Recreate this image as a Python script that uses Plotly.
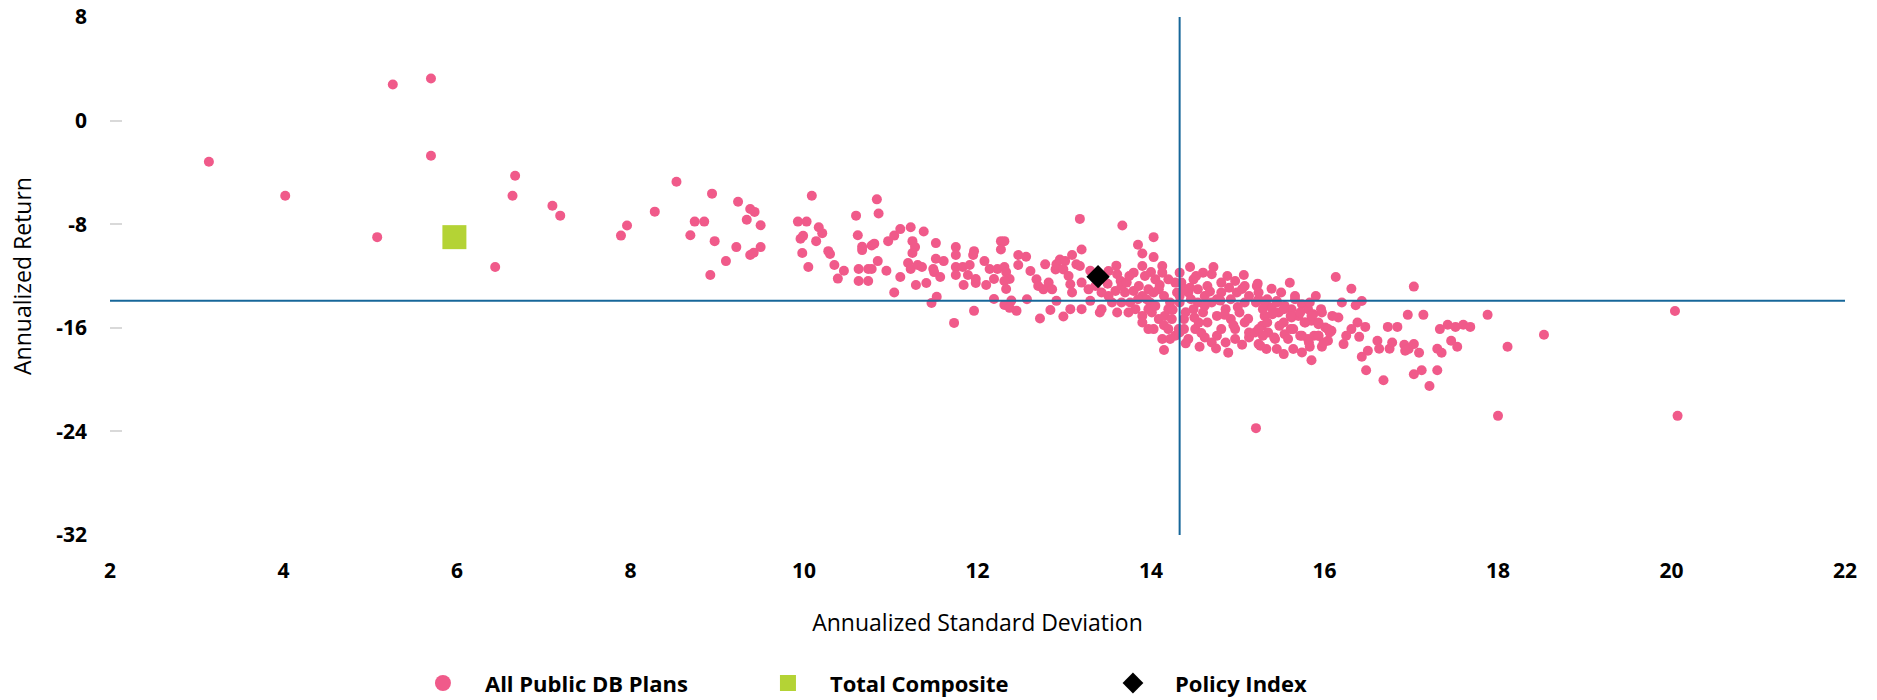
import plotly.graph_objects as go

# ---------------- data ----------------
plans_sd = [
    3.14, 4.02, 5.26, 5.70, 5.70, 5.08, 6.67, 6.64, 6.44, 7.10, 7.19, 7.96, 7.89,
    8.28, 8.53, 8.74, 8.85, 8.69, 8.94, 8.97, 8.92, 9.10, 9.22, 9.24, 9.38, 9.43, 9.34, 9.50, 9.38,
    9.42, 9.50, 9.93, 10.03, 10.09, 9.96, 9.99, 9.98, 10.05, 10.17, 10.21, 10.14, 10.28, 10.30, 10.35,
    10.46, 10.39, 10.60, 10.84, 10.86, 10.62, 10.67, 10.67, 10.78, 10.81, 10.63, 10.74, 10.78, 10.85,
    10.63, 10.74, 10.95, 10.97, 11.04, 11.11, 11.23, 11.38, 11.25, 11.28, 11.25, 11.11, 11.04, 11.20,
    11.23, 11.31, 11.36, 11.29, 11.41, 11.52, 11.52, 11.61, 11.49, 11.50, 11.57, 11.53, 11.47, 11.73,
    11.75, 11.75, 11.75, 11.83, 11.75, 11.84, 11.96, 11.95, 11.91, 11.89, 11.98, 11.98, 12.08, 12.10,
    11.96, 12.14, 12.19, 12.19, 12.27, 12.31, 12.27, 12.23, 12.31, 12.33, 12.37, 12.31, 12.33, 12.47,
    12.47, 12.31, 12.39, 12.45, 12.37,
    13.18, 13.67, 14.03, 13.85, 13.90, 14.03, 13.20, 13.09, 12.56,
    12.61, 12.68, 12.70, 12.78, 12.76, 12.82, 12.86, 12.90, 12.91, 12.95, 13.01, 12.99, 13.05, 13.07,
    13.09, 13.14, 13.18, 13.20, 13.28, 12.57, 12.72, 12.84, 12.91, 12.99, 13.07, 13.20, 13.30, 13.41,
    13.43, 13.51, 13.61, 13.65, 13.59, 13.55, 13.61, 13.70, 13.76, 13.80, 13.86, 13.90, 13.93, 13.97,
    13.99, 14.01, 14.05, 14.09, 14.13, 14.15, 14.03, 14.09, 14.16, 14.20, 14.13, 14.15, 14.22, 14.28,
    14.30, 14.13, 14.20, 13.66, 13.72, 13.80, 13.90, 13.95, 14.03, 13.82, 13.90, 13.97, 14.05, 13.74,
    13.66, 13.51, 13.43, 13.36, 13.97, 13.90, 14.20, 14.24, 14.28, 14.32, 14.22,
    14.33, 14.45, 14.60, 14.72, 14.70, 15.07, 14.97, 14.56, 14.89, 14.86, 14.76, 14.62, 14.51, 14.38,
    14.33, 14.97, 15.13, 14.33, 14.43, 14.54, 14.65, 14.81, 14.92, 15.08, 14.60, 14.49, 14.38, 14.76,
    14.92, 15.08, 14.54, 14.70, 14.86, 15.02, 14.65, 14.81, 14.97, 15.13, 14.35, 14.49, 14.81, 15.08,
    14.33, 14.46, 14.62, 14.76, 14.99, 15.13, 14.43, 14.70,
    16.13, 16.31, 17.03, 16.43, 16.36, 16.96, 17.14, 17.88, 18.53, 18.11, 18.00, 15.21, 16.73, 16.84,
    17.33, 17.42, 17.51, 17.60, 17.68, 17.46, 17.53, 17.30, 17.35, 17.30, 17.12, 17.03, 17.21, 16.68,
    16.48, 16.43, 16.50, 16.61, 16.63, 16.75, 16.78, 16.92, 16.97, 17.03, 17.09, 16.93, 16.38, 16.47,
    16.40, 16.31, 16.25, 16.22, 16.16, 16.08, 16.04, 15.97, 15.97, 15.85, 15.83, 15.74, 15.66, 15.60,
    15.90, 15.39, 15.53, 15.33, 15.24, 15.64, 15.54,
    15.78, 15.85, 15.93, 16.01, 16.06, 15.74, 15.81, 15.93, 15.99, 15.70, 15.62, 15.53, 15.47, 15.39,
    15.31, 15.24, 15.28, 15.35, 15.43, 15.20, 15.31, 15.45, 15.54, 15.62, 15.74, 15.81, 15.87, 15.22,
    15.23, 20.04, 20.07,
    15.24, 15.34, 15.45, 15.29, 15.40, 15.53, 15.61, 15.72, 15.34, 15.48, 15.61, 15.77, 15.85, 15.93,
    16.04, 15.29, 15.42, 15.58, 15.72, 15.88, 15.26, 15.45, 15.64, 15.82, 15.21, 15.50, 15.66, 15.83,
    15.96, 16.09, 16.20, 15.24, 15.93,
    14.40, 14.55, 14.45, 14.68, 14.90, 15.00, 14.85, 14.58, 14.40, 15.05, 14.75, 14.50, 14.95, 14.62,
    14.80, 14.38, 14.52, 14.88, 15.05, 15.12,
    13.50, 13.75, 14.10, 14.25, 13.85, 14.15, 13.60, 14.00, 13.30, 13.45,
]
plans_ret = [
    -3.18, -5.80, 2.79, 3.25, -2.72, -9.00, -4.26, -5.80, -11.31, -6.57, -7.34, -8.10, -8.88,
    -7.03, -4.72, -7.80, -7.80, -8.85, -5.64, -9.31, -11.92, -10.85, -9.77, -6.26, -6.82, -7.05, -7.65, -8.08, -10.38,
    -10.20, -9.77, -7.80, -7.80, -5.80, -9.13, -8.90, -10.23, -11.30, -8.23, -8.69, -9.31, -10.08, -10.30, -11.15,
    -11.60, -12.20, -7.34, -6.08, -7.18, -8.85, -9.75, -10.00, -9.65, -9.50, -11.46, -11.46, -11.46, -10.85,
    -12.38, -12.38, -11.60, -9.31, -8.88, -8.38, -8.23, -8.57, -9.31, -9.77, -10.23, -12.08, -13.28, -11.00,
    -11.46, -11.15, -11.30, -12.69, -12.54, -9.46, -10.67, -10.85, -11.46, -11.70, -12.08, -13.60, -14.08, -15.62,
    -9.77, -10.38, -11.30, -11.30, -11.92, -12.69, -10.08, -10.38, -11.15, -11.92, -12.23, -12.54, -10.85, -12.69,
    -14.69, -11.46, -12.23, -13.77, -9.31, -9.31, -9.96, -11.46, -11.30, -11.70, -12.23, -12.38, -13.00, -10.38,
    -11.15, -14.23, -13.90, -14.69, -14.46,
    -7.59, -8.10, -9.00, -9.59, -10.26, -10.54, -9.95, -10.38, -10.51,
    -11.62, -12.26, -12.77, -11.10, -13.03, -12.51, -13.03, -11.49, -11.10, -10.72, -10.85, -11.49, -12.00, -12.64,
    -13.28, -11.10, -11.23, -12.51, -13.03, -13.80, -15.28, -14.62, -13.92, -15.13, -14.56, -14.56, -13.92, -14.82,
    -14.56, -11.62, -11.87, -12.39, -13.15, -14.05, -14.82, -13.28, -14.05, -11.74, -12.77, -11.23, -12.00, -13.03,
    -14.05, -14.82, -12.26, -13.03, -11.23, -13.54, -16.10, -15.33, -15.08, -16.10, -16.87, -17.72, -14.05, -12.51,
    -13.28, -11.74, -12.26, -12.77, -12.51, -13.15, -13.54, -13.80, -13.28, -14.56, -15.08, -14.56, -14.31, -14.82,
    -14.05, -13.54, -13.28, -12.77, -16.10, -15.59, -14.56, -15.33, -16.62, -16.10, -16.87,
    -11.74, -11.31, -11.74, -11.31, -11.87, -11.92, -12.39, -17.46, -17.92, -17.13, -16.62, -16.74, -16.10, -16.10,
    -16.36, -16.87, -16.74, -14.05, -13.28, -13.03, -12.77, -13.28, -13.80, -14.05, -14.82, -14.56, -15.33, -15.08,
    -15.33, -15.59, -14.05, -14.05, -14.56, -14.82, -15.59, -16.10, -16.10, -16.36, -12.51, -12.26, -12.51, -12.77,
    -13.54, -13.80, -13.54, -13.80, -13.28, -13.54, -16.87, -17.13,
    -12.08, -12.98, -12.82, -13.93, -14.26, -15.00, -15.00, -15.00, -16.54, -17.46, -22.80, -23.75, -15.93, -15.93,
    -16.10, -15.77, -15.93, -15.77, -15.93, -17.00, -17.46, -17.62, -17.93, -19.28, -19.28, -19.59, -20.50, -20.05,
    -19.28, -18.23, -17.77, -17.00, -17.62, -17.62, -17.13, -17.31, -17.64, -17.26, -17.93, -17.77, -15.59, -15.93,
    -16.70, -16.10, -16.62, -17.26, -15.21, -16.23, -17.00, -14.82, -17.46, -18.50, -17.46, -17.90, -13.54, -12.52,
    -13.54, -12.98, -18.03, -17.64, -17.26, -16.10, -16.49,
    -15.59, -15.46, -15.72, -15.98, -16.36, -16.62, -16.87, -16.62, -17.13, -15.08, -15.21, -15.59, -14.82, -14.44,
    -15.08, -13.80, -15.85, -16.36, -16.87, -16.36, -14.05, -13.93, -14.31, -14.57, -14.18, -14.57, -14.95, -12.77,
    -12.59, -14.70, -22.80,
    -13.28, -13.80, -14.05, -14.56, -14.95, -14.56, -15.08, -14.82, -15.59, -15.85, -16.10, -15.59, -15.08, -15.59,
    -16.10, -16.62, -16.74, -16.87, -16.62, -16.62, -17.39, -17.64, -17.64, -17.13, -14.05, -13.28, -13.80, -14.05,
    -14.56, -15.08, -14.05, -16.10, -16.62,
    -14.80, -15.60, -12.90, -13.20, -12.90, -14.40, -15.00, -16.40, -17.20, -17.30, -17.60, -15.20, -15.80, -14.30,
    -13.90, -13.00, -12.00, -12.00, -13.00, -15.30,
    -12.60, -12.00, -12.70, -14.60, -13.80, -15.80, -11.20, -11.70, -11.60, -12.20,
]
composite_sd = [5.97]
composite_ret = [-9.00]
policy_sd = [13.39]
policy_ret = [-12.05]
median_sd = 14.33
median_ret = -13.92

x_ticks = [2, 4, 6, 8, 10, 12, 14, 16, 18, 20, 22]
y_ticks = [8, 0, -8, -16, -24, -32]

PINK = "#F05A8A"
GREEN = "#B4D335"
LINE = "#17679A"
FONT = "Open Sans"

fig = go.Figure()
fig.add_trace(go.Scatter(x=plans_sd, y=plans_ret, mode="markers", name="All Public DB Plans",
                         marker=dict(color=PINK, size=10), showlegend=False, legendgroup="a"))
fig.add_trace(go.Scatter(x=composite_sd, y=composite_ret, mode="markers", name="Total Composite",
                         marker=dict(color=GREEN, size=24, symbol="square"), showlegend=False, legendgroup="b"))
fig.add_trace(go.Scatter(x=policy_sd, y=policy_ret, mode="markers", name="Policy Index",
                         marker=dict(color="black", size=18, symbol="diamond"), showlegend=False, legendgroup="c"))
# legend entries (bigger symbols)
fig.add_trace(go.Scatter(x=[None], y=[None], mode="markers", name="All Public DB Plans",
                         marker=dict(color=PINK, size=24), legendgroup="a"))
fig.add_trace(go.Scatter(x=[None], y=[None], mode="markers", name="Total Composite",
                         marker=dict(color=GREEN, size=24, symbol="square"), legendgroup="b"))
fig.add_trace(go.Scatter(x=[None], y=[None], mode="markers", name="Policy Index",
                         marker=dict(color="black", size=24, symbol="diamond"), legendgroup="c"))

fig.add_shape(type="line", xref="x", yref="y", x0=median_sd, x1=median_sd, y0=-32, y1=8,
              line=dict(color=LINE, width=2), layer="above")
fig.add_shape(type="line", xref="x", yref="y", x0=2, x1=22, y0=median_ret, y1=median_ret,
              line=dict(color=LINE, width=2), layer="above")

fig.update_layout(
    width=1877, height=700,
    margin=dict(l=110, r=32, t=17, b=165),
    paper_bgcolor="white", plot_bgcolor="white",
    font=dict(family=FONT, color="black"),
    showlegend=True,
    legend=dict(orientation="h", x=0.1677, xanchor="left", xref="paper",
                y=0.024, yanchor="middle", yref="container",
                font=dict(family=FONT, size=22, color="black", weight="bold"),
                itemwidth=74, entrywidth=256, entrywidthmode="pixels"),
    xaxis=dict(range=[2, 22], tickvals=x_ticks, ticktext=[str(v) for v in x_ticks],
               showgrid=False, zeroline=False, showline=False, ticks="", automargin=False,
               tickfont=dict(family=FONT, size=21, color="black", weight="bold"),
               ticklabelstandoff=21,
               title=dict(text="Annualized Standard Deviation", font=dict(family=FONT, size=23, color="black"),
                          standoff=31)),
    yaxis=dict(range=[-32, 8], tickvals=y_ticks, ticktext=[str(v) for v in y_ticks],
               showgrid=False, zeroline=False, showline=False, ticks="inside", ticklen=12,
               tickcolor="#D9D9D9", tickwidth=1.5, ticklabeloverflow="allow", automargin=False,
               tickfont=dict(family=FONT, size=21, color="black", weight="bold"),
               ticklabelstandoff=22,
               title=dict(text="Annualized Return", font=dict(family=FONT, size=23, color="black"),
                          standoff=18)),
)

fig.write_html("out.html")
